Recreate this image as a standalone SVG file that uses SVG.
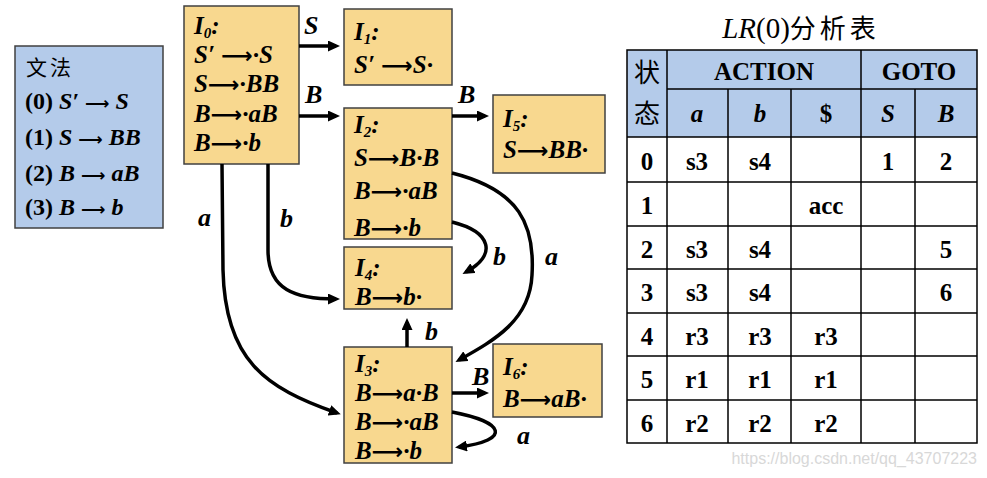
<svg xmlns="http://www.w3.org/2000/svg" width="987" height="478" viewBox="0 0 987 478">
<defs>
<marker id="ah" viewBox="0 0 12 11" refX="8" refY="5.5" markerWidth="12" markerHeight="11" markerUnits="userSpaceOnUse" orient="auto">
<path d="M0,0 L12,5.5 L0,11 z" fill="#000"/>
</marker>
</defs>
<style>
.node{fill:#f8d88f;stroke:#404040;stroke-width:1.5}
.gram{fill:#b4cbea;stroke:#404040;stroke-width:1.5}
.t{font-weight:bold;font-style:italic;font-size:25px;fill:#000}
.sub{font-size:15px}
.ar{font-family:'DejaVu Sans',sans-serif;font-style:normal;font-weight:bold;font-size:22px}
.ar2{font-family:'DejaVu Sans',sans-serif;font-style:normal;font-weight:bold;font-size:17px}
.g{font-weight:bold;font-size:24px;fill:#000}
.gi{font-style:italic}
.cjk{font-size:21px;fill:#000}
.lbl{font-weight:bold;font-style:italic;font-size:26px;fill:#000}
.edge{fill:none;stroke:#000;stroke-width:3.5;marker-end:url(#ah)}
.hdr{fill:#b4cbea}
.grid{stroke:#000;stroke-width:1.5;fill:none}
.c{font-weight:bold;font-size:25px;fill:#000;text-anchor:middle}
.ci{font-style:italic}
.title{font-size:29px;fill:#000}
.tcjk{font-size:26px;fill:#000}
.wm{font-size:16px;fill:#d8d8d8}
</style>
<rect width="987" height="478" fill="#fff"/>

<g id="grammar" font-family="Liberation Serif, serif">
<rect class="gram" x="15" y="46" width="148" height="182"/>
<text class="cjk" x="26" y="75" letter-spacing="3" font-family="Noto Sans CJK SC, sans-serif">文法</text>
<text class="g" x="25" y="109">(0) <tspan class="gi">S′ <tspan class="ar2">⟶</tspan> S</tspan></text>
<text class="g" x="25" y="145">(1) <tspan class="gi">S <tspan class="ar2">⟶</tspan> BB</tspan></text>
<text class="g" x="25" y="181">(2) <tspan class="gi">B <tspan class="ar2">⟶</tspan> aB</tspan></text>
<text class="g" x="25" y="215">(3) <tspan class="gi">B <tspan class="ar2">⟶</tspan> b</tspan></text>
</g>

<g id="nodes" font-family="Liberation Serif, serif">
<g id="I0">
<rect class="node" x="184" y="6" width="115" height="158"/>
<text class="t" x="194" y="34">I<tspan class="sub" dy="4">0</tspan><tspan dy="-4">:</tspan></text>
<text class="t" x="194" y="63">S′ <tspan class="ar">⟶</tspan>·S</text>
<text class="t" x="194" y="92">S<tspan class="ar">⟶</tspan>·BB</text>
<text class="t" x="194" y="122">B<tspan class="ar">⟶</tspan>·aB</text>
<text class="t" x="194" y="151">B<tspan class="ar">⟶</tspan>·b</text>
</g>

<g id="I1">
<rect class="node" x="344" y="9" width="108" height="76"/>
<text class="t" x="354" y="40">I<tspan class="sub" dy="4">1</tspan><tspan dy="-4">:</tspan></text>
<text class="t" x="354" y="73">S′ <tspan class="ar">⟶</tspan>S·</text>
</g>

<g id="I2">
<rect class="node" x="344" y="108" width="108" height="131"/>
<text class="t" x="354" y="133">I<tspan class="sub" dy="4">2</tspan><tspan dy="-4">:</tspan></text>
<text class="t" x="354" y="166">S<tspan class="ar">⟶</tspan>B·B</text>
<text class="t" x="354" y="199">B<tspan class="ar">⟶</tspan>·aB</text>
<text class="t" x="354" y="236">B<tspan class="ar">⟶</tspan>·b</text>
</g>

<g id="I5">
<rect class="node" x="493" y="95" width="112" height="78"/>
<text class="t" x="503" y="127">I<tspan class="sub" dy="4">5</tspan><tspan dy="-4">:</tspan></text>
<text class="t" x="503" y="158">S<tspan class="ar">⟶</tspan>BB·</text>
</g>

<g id="I4">
<rect class="node" x="344" y="247" width="108" height="62"/>
<text class="t" x="355" y="276">I<tspan class="sub" dy="4">4</tspan><tspan dy="-4">:</tspan></text>
<text class="t" x="355" y="305">B<tspan class="ar">⟶</tspan>b·</text>
</g>

<g id="I3">
<rect class="node" x="344" y="347" width="108" height="116"/>
<text class="t" x="355" y="372">I<tspan class="sub" dy="4">3</tspan><tspan dy="-4">:</tspan></text>
<text class="t" x="355" y="401">B<tspan class="ar">⟶</tspan>a·B</text>
<text class="t" x="355" y="430">B<tspan class="ar">⟶</tspan>·aB</text>
<text class="t" x="355" y="459">B<tspan class="ar">⟶</tspan>·b</text>
</g>

<g id="I6">
<rect class="node" x="493" y="344" width="109" height="73"/>
<text class="t" x="503" y="375">I<tspan class="sub" dy="4">6</tspan><tspan dy="-4">:</tspan></text>
<text class="t" x="503" y="407">B<tspan class="ar">⟶</tspan>aB·</text>
</g>
</g>

<g id="connectors" font-family="Liberation Serif, serif">
<path class="edge" d="M299,46 H336"/>
<path class="edge" d="M299,116 H336"/>
<path class="edge" d="M452,116 H485"/>
<path class="edge" d="M452,393 H485"/>
<path class="edge" d="M407,347 V322"/>
<path class="edge" d="M222,164 L223,270 C225,360 265,388 337,413"/>
<path class="edge" d="M268,164 L268,250 C268,290 295,299 336,299"/>
<path class="edge" d="M452,222 C492,232 497,255 466,272"/>
<path class="edge" d="M452,173 C520,190 535,225 532,275 C530,320 495,340 459,360"/>
<path class="edge" d="M452,412 C505,422 512,440 459,447"/>
<text class="lbl" x="304" y="34">S</text>
<text class="lbl" x="305" y="103">B</text>
<text class="lbl" x="458" y="103">B</text>
<text class="lbl" x="198" y="226">a</text>
<text class="lbl" x="280" y="227">b</text>
<text class="lbl" x="493" y="265">b</text>
<text class="lbl" x="545" y="265">a</text>
<text class="lbl" x="425" y="340">b</text>
<text class="lbl" x="472" y="385">B</text>
<text class="lbl" x="517" y="444">a</text>
</g>

<g id="table" font-family="Liberation Serif, serif">
<text x="801" y="38" text-anchor="middle"><tspan class="title" font-style="italic">LR</tspan><tspan class="title">(0)</tspan><tspan class="tcjk" letter-spacing="4" font-family="Noto Sans CJK SC, sans-serif">分析表</tspan></text>
<rect class="hdr" x="627" y="50" width="350" height="87"/>
<rect class="grid" x="627" y="50" width="350" height="393"/>
<path class="grid" d="M667,50 V443 M861,50 V443 M728,89 V443 M791,89 V443 M915,89 V443 M667,89 H977 M627,137 H977 M627,182 H977 M627,226 H977 M627,269 H977 M627,313 H977 M627,356 H977 M627,400 H977"/>
<text class="tcjk" x="647" y="82" text-anchor="middle" font-size="27" font-family="Noto Sans CJK SC, sans-serif">状</text>
<text class="tcjk" x="647" y="123" text-anchor="middle" font-size="27" font-family="Noto Sans CJK SC, sans-serif">态</text>
<text class="c" x="764" y="80" font-size="28">ACTION</text>
<text class="c" x="919" y="80" font-size="28">GOTO</text>
<text class="c ci" x="697" y="122" font-size="27">a</text>
<text class="c ci" x="760" y="122" font-size="27">b</text>
<text class="c" x="826" y="122" font-size="27">$</text>
<text class="c ci" x="888" y="122" font-size="27">S</text>
<text class="c ci" x="946" y="122" font-size="27">B</text>

<text class="c" x="647" y="170">0</text>
<text class="c" x="697" y="170">s3</text>
<text class="c" x="760" y="170">s4</text>
<text class="c" x="888" y="170">1</text>
<text class="c" x="946" y="170">2</text>

<text class="c" x="647" y="214">1</text>
<text class="c" x="826" y="214">acc</text>

<text class="c" x="647" y="258">2</text>
<text class="c" x="697" y="258">s3</text>
<text class="c" x="760" y="258">s4</text>
<text class="c" x="946" y="258">5</text>

<text class="c" x="647" y="301">3</text>
<text class="c" x="697" y="301">s3</text>
<text class="c" x="760" y="301">s4</text>
<text class="c" x="946" y="301">6</text>

<text class="c" x="647" y="345">4</text>
<text class="c" x="697" y="345">r3</text>
<text class="c" x="760" y="345">r3</text>
<text class="c" x="826" y="345">r3</text>

<text class="c" x="647" y="388">5</text>
<text class="c" x="697" y="388">r1</text>
<text class="c" x="760" y="388">r1</text>
<text class="c" x="826" y="388">r1</text>

<text class="c" x="647" y="432">6</text>
<text class="c" x="697" y="432">r2</text>
<text class="c" x="760" y="432">r2</text>
<text class="c" x="826" y="432">r2</text>
</g>
<text class="wm" x="977" y="464" text-anchor="end" font-family="Liberation Sans, sans-serif">https://blog.csdn.net/qq_43707223</text>
</svg>
